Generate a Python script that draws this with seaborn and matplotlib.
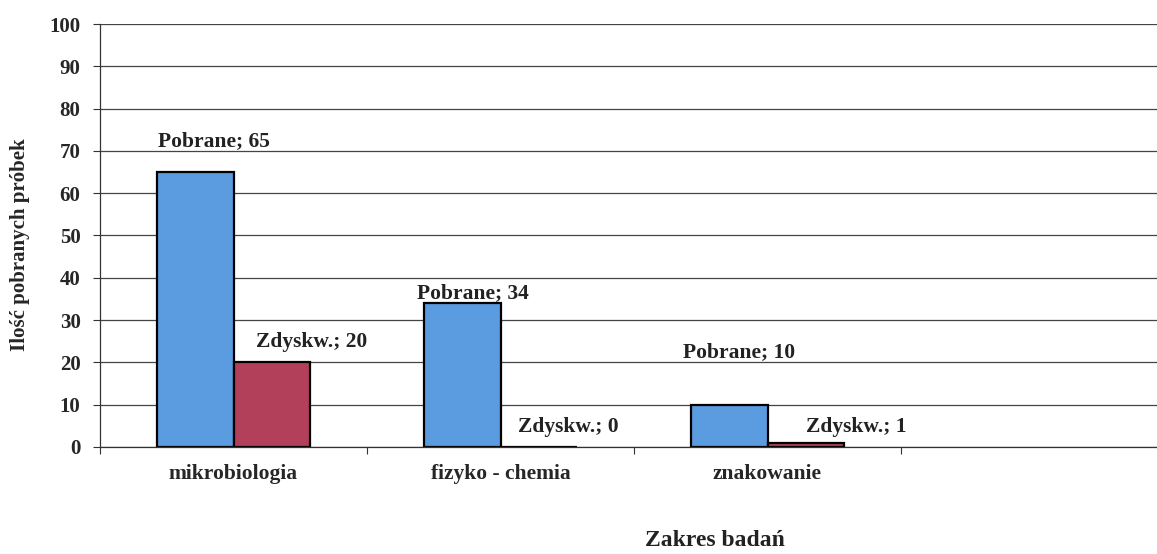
import matplotlib
matplotlib.use("Agg")
import matplotlib.pyplot as plt
import pandas as pd
import seaborn as sns

KATEGORIE = ["mikrobiologia", "fizyko - chemia", "znakowanie"]
POBRANE = [65, 34, 10]
ZDYSKW = [20, 0, 1]
SERIE = ["Pobrane", "Zdyskw."]
Y_TICKI = list(range(0, 101, 10))

KOLORY = ["#5b9be0", "#b3405a"]
# przesunięcia etykiet (px) względem środka/szczytu słupka – jak w oryginale
PRZESUNIECIA = {
    "Pobrane": [(18, 31), (10, 10), (10, 53)],
    "Zdyskw.": [(40, 20), (30, 20), (51, 16)],
}

sns.set_theme(style="white")
plt.rcParams["font.family"] = ["Liberation Serif", "DejaVu Serif"]
plt.rcParams["font.weight"] = "bold"

df = pd.DataFrame({
    "zakres": KATEGORIE * 2,
    "seria": [SERIE[0]] * 3 + [SERIE[1]] * 3,
    "ile": POBRANE + ZDYSKW,
})

fig = plt.figure(figsize=(11.57, 5.54), dpi=100)
ax = fig.add_axes([100 / 1157, 1 - 447 / 554, 1068 / 1157, 423 / 554])

sns.barplot(df, x="zakres", y="ile", hue="seria", order=KATEGORIE,
            hue_order=SERIE, palette=KOLORY, width=0.57, saturation=1,
            edgecolor="black", linewidth=1.6, legend=False, ax=ax)

for seria, cont in zip(SERIE, ax.containers):
    for bar, (dx, dy) in zip(cont, PRZESUNIECIA[seria]):
        x = bar.get_x() + bar.get_width() / 2
        h = bar.get_height()
        ax.annotate(f"{seria}; {int(h)}", (x, h), xytext=(dx, dy),
                    textcoords="offset pixels", ha="center", va="center",
                    fontsize=15.5, fontweight="bold", color="#222222")

ax.set_ylim(0, 100)
ax.set_xlim(-0.5, 3.5)
ax.set_yticks(Y_TICKI)
ax.set_yticklabels([str(v) for v in Y_TICKI], fontsize=15, fontweight="bold")
ax.tick_params(axis="y", length=5, width=0.8, pad=9, left=True, color="#333333")
ax.tick_params(axis="x", which="major", length=0, pad=12, labelsize=15.5)
ax.set_xticks([-0.5, 0.5, 1.5, 2.5], minor=True)
ax.tick_params(axis="x", which="minor", length=5, width=0.8, bottom=True,
               color="#333333")
ax.yaxis.grid(True, color="#444444", linewidth=0.9)
ax.set_axisbelow(True)

for strona in ["top", "right"]:
    ax.spines[strona].set_visible(False)
ax.spines["left"].set_color("#333333")
ax.spines["bottom"].set_color("#333333")
ax.spines["left"].set_linewidth(0.9)
ax.spines["bottom"].set_linewidth(0.9)

ax.set_xlabel("")
ax.set_ylabel("Ilość pobranych próbek", fontsize=15, fontweight="bold")
ax.yaxis.set_label_coords(-70 / 1068, 0.478)
fig.text(715 / 1157, 1 - 540 / 554, "Zakres badań", ha="center", va="center",
         fontsize=17, fontweight="bold", color="#222222")

fig.savefig("out.png", dpi=100)
